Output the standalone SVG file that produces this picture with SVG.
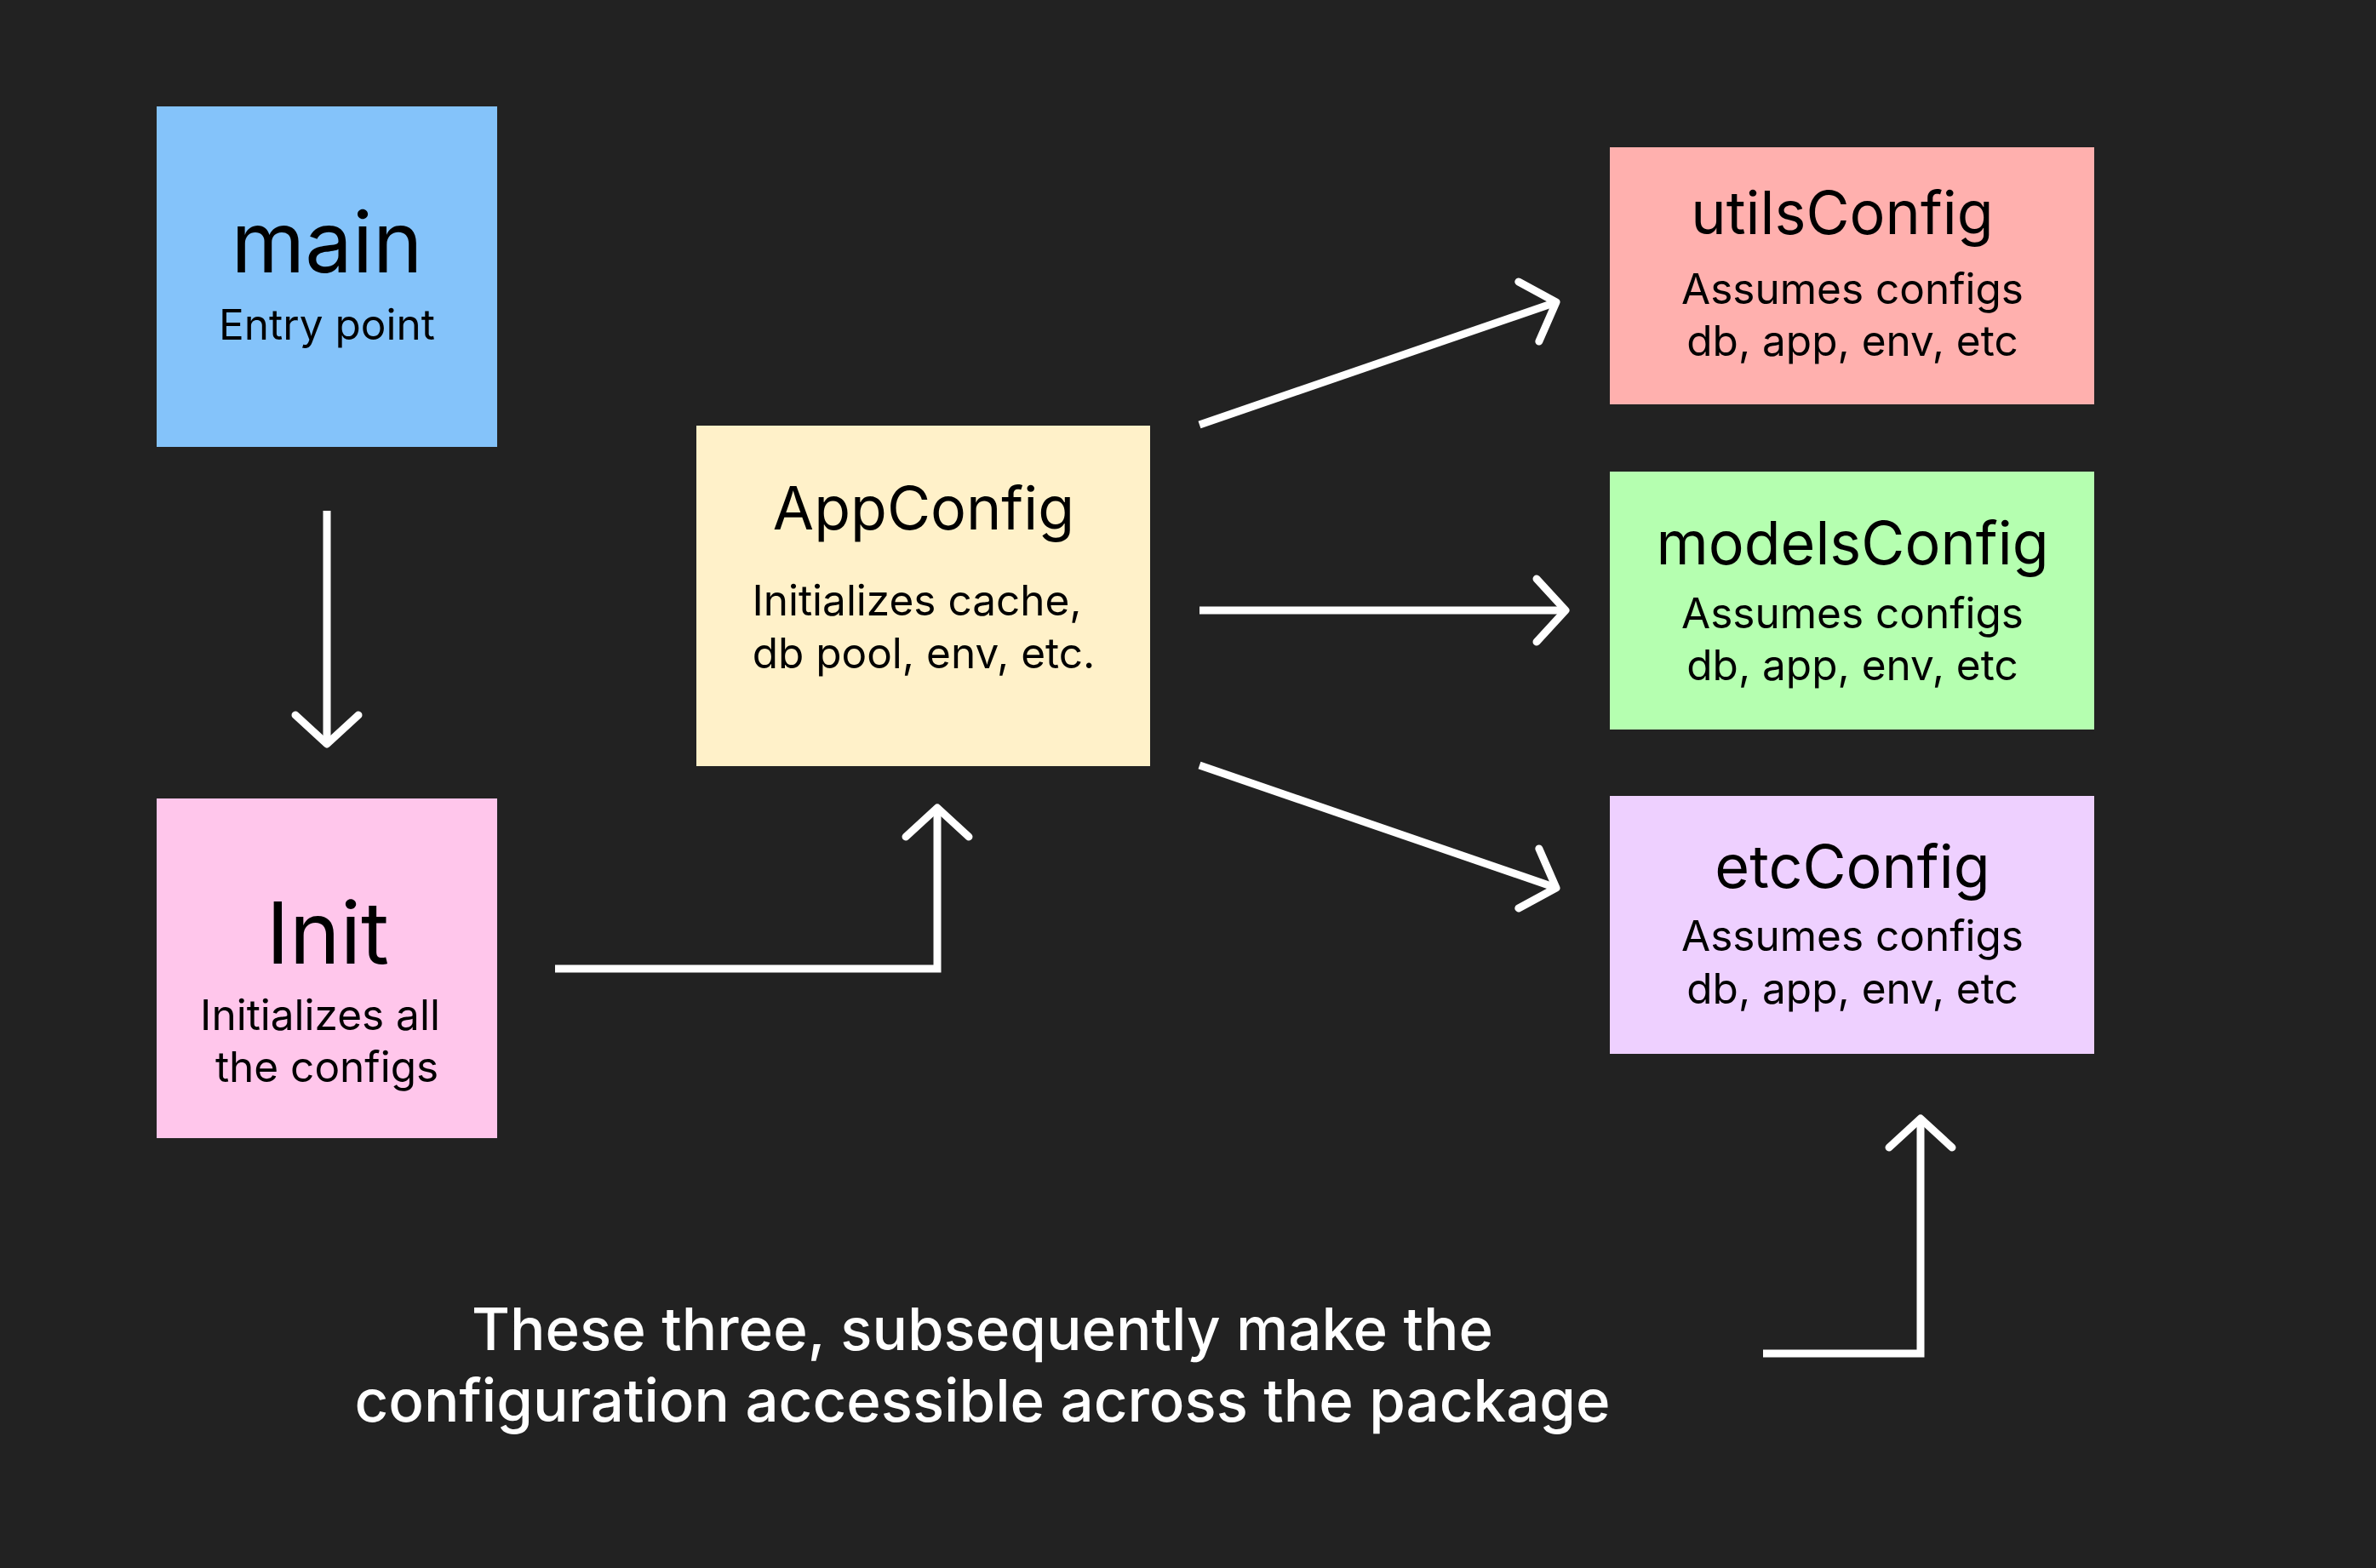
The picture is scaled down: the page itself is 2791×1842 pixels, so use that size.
<svg xmlns="http://www.w3.org/2000/svg" width="2791" height="1842" viewBox="0 0 2791 1842">
<style>
.title{font-family:Inter,"Noto Sans","Liberation Sans",sans-serif;font-weight:400;fill:#000;text-anchor:middle}
.sub{font-family:Inter,"Noto Sans","Liberation Sans",sans-serif;font-weight:400;fill:#000;text-anchor:middle;font-size:49.5px}
.note{font-family:Inter,"Noto Sans","Liberation Sans",sans-serif;font-weight:500;fill:#fff;text-anchor:middle;font-size:69px}
.conn{fill:none;stroke:#fff;stroke-width:9;stroke-linejoin:miter}
</style>
<defs>
<marker id="arrow" markerUnits="userSpaceOnUse" orient="auto" refX="0" refY="0" markerWidth="100" markerHeight="100" viewBox="-50 -50 100 100" overflow="visible">
<path d="M -34 -37 L 0 0 L -34 37" fill="none" stroke="#fff" stroke-width="9" stroke-linecap="round" stroke-linejoin="round"/>
</marker>
</defs>
<rect x="0" y="0" width="2791" height="1842" fill="#222222"/>
<g id="node-main">
<rect x="184" y="125" width="400" height="400" fill="#84C3FA"/>
<text class="title" x="384" y="320" font-size="99">main</text>
<text class="sub" x="384" y="399" font-size="52">Entry point</text>
</g>
<g id="node-init">
<rect x="184" y="938" width="400" height="399" fill="#FFC6EB"/>
<text class="title" x="385" y="1132" font-size="101">Init</text>
<text class="sub" x="376" y="1210">Initializes all</text>
<text class="sub" x="384" y="1271">the configs</text>
</g>
<g id="node-appconfig">
<rect x="818" y="500" width="533" height="400" fill="#FFF1C9"/>
<text class="title" x="1085" y="622" font-size="70">AppConfig</text>
<text class="sub" x="1077" y="723">Initializes cache,</text>
<text class="sub" x="1085" y="785">db pool, env, etc.</text>
</g>
<g id="node-utilsconfig">
<rect x="1891" y="173" width="569" height="302" fill="#FFB0AE"/>
<text class="title" x="2164" y="275" font-size="70">utilsConfig</text>
<text class="sub" x="2176" y="357">Assumes configs</text>
<text class="sub" x="2176" y="418">db, app, env, etc</text>
</g>
<g id="node-modelsconfig">
<rect x="1891" y="554" width="569" height="303" fill="#B5FFB0"/>
<text class="title" x="2176" y="663" font-size="70">modelsConfig</text>
<text class="sub" x="2176" y="738">Assumes configs</text>
<text class="sub" x="2176" y="799">db, app, env, etc</text>
</g>
<g id="node-etcconfig">
<rect x="1891" y="935" width="569" height="303" fill="#EED0FF"/>
<text class="title" x="2176" y="1043" font-size="70">etcConfig</text>
<text class="sub" x="2176" y="1117">Assumes configs</text>
<text class="sub" x="2176" y="1179">db, app, env, etc</text>
</g>
<g id="note">
<text class="note" x="1154" y="1586">These three, subsequently make the</text>
<text class="note" x="1154" y="1670">configuration accessible across the package</text>
</g>
<g id="connectors">
<path class="conn" d="M 384 600 L 384 874" marker-end="url(#arrow)"/>
<path class="conn" d="M 652 1138 L 1101 1138 L 1101 949" marker-end="url(#arrow)"/>
<path class="conn" d="M 1409 499 L 1828 355" marker-end="url(#arrow)"/>
<path class="conn" d="M 1409 717 L 1839 717" marker-end="url(#arrow)"/>
<path class="conn" d="M 1409 899 L 1828 1043" marker-end="url(#arrow)"/>
<path class="conn" d="M 2071 1590 L 2256 1590 L 2256 1314" marker-end="url(#arrow)"/>
</g>
</svg>
